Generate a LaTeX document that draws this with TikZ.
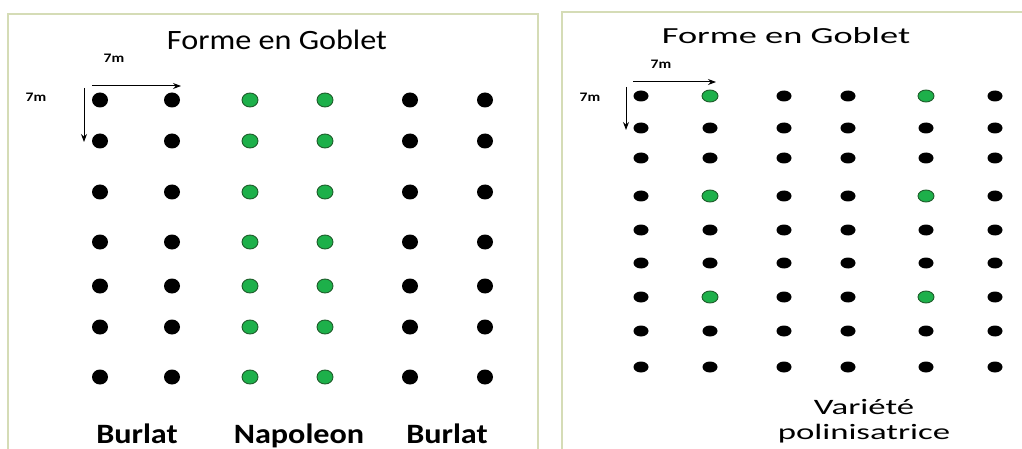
\documentclass[tikz,border=0pt]{standalone}
\usepackage{fontspec}
\setmainfont{Carlito}
\newfontfamily\lwide[FakeStretch=1.15]{Carlito}
\newfontfamily\rwide[FakeStretch=1.58]{Carlito}
\newfontfamily\dimwide[FakeStretch=1.2]{Carlito}
\usetikzlibrary{arrows.meta,shapes.geometric}
\definecolor{frame}{HTML}{D5DCB6}
\definecolor{treegreen}{HTML}{1DB04A}
\definecolor{treeedge}{HTML}{1E5C2A}
\tikzset{
  bdot/.style={fill=black, draw=none, ellipse, minimum width=16pt, minimum height=15pt, inner sep=0pt},
  gdot/.style={fill=treegreen, draw=treeedge, line width=0.9pt, ellipse, minimum width=16pt, minimum height=14pt, inner sep=0pt},
  sbdot/.style={bdot, minimum width=15pt, minimum height=11pt},
  sgdot/.style={gdot, minimum width=16pt, minimum height=12pt},
  panel/.style={draw=frame, line width=1.8pt},
  dim/.style={-{Stealth[length=8pt,width=6pt]}, line width=1pt},
  dimlabel/.style={font=\dimwide\bfseries\fontsize{13}{14}\selectfont},
  ltitle/.style={anchor=base, font=\lwide\fontsize{28}{30}\selectfont},
  rtitle/.style={anchor=base, font=\rwide\fontsize{23}{26}\selectfont},
  variety/.style={anchor=base, font=\lwide\bfseries\fontsize{28}{30}\selectfont},
}
\begin{document}
\begin{tikzpicture}[x=1pt,y=-1pt]
\useasboundingbox (0,0) rectangle (1022,449);
% panels
\draw[panel] (8,460) -- (8,14) -- (538,14) -- (538,460);
\draw[panel] (562,460) -- (562,12) -- (1030,12);
% ---------- left panel ----------
\node[ltitle] (t1) at (277,50) {Forme en Goblet};
\node[dimlabel] (h1) at (114,58) {7m};
\node[dimlabel] (v1) at (36,97) {7m};
\coordinate (h1a) at (92,86); \coordinate (h1b) at (181,86);
\coordinate (v1a) at (84,88); \coordinate (v1b) at (84,142);
\draw[dim] (h1a) -- (h1b);
\draw[dim] (v1a) -- (v1b);
\foreach \y [count=\r] in {100,141,192,242,286,327,377}{
  \node[bdot] (L\r a) at (100,\y) {};
  \node[bdot] (L\r b) at (172,\y) {};
  \node[gdot] (L\r c) at (250,\y) {};
  \node[gdot] (L\r d) at (325,\y) {};
  \node[bdot] (L\r e) at (410,\y) {};
  \node[bdot] (L\r f) at (485,\y) {};
}
\node[variety] (n1) at (137,443) {Burlat};
\node[variety] (n2) at (299,443) {Napoleon};
\node[variety] (n3) at (447,443) {Burlat};
% ---------- right panel ----------
\node[rtitle] (t2) at (786,44) {Forme en Goblet};
\node[dimlabel] (h2) at (661,64) {7m};
\node[dimlabel] (v2) at (590,97) {7m};
\coordinate (h2a) at (633,82); \coordinate (h2b) at (716,82);
\coordinate (v2a) at (626,87); \coordinate (v2b) at (626,130);
\draw[dim] (h2a) -- (h2b);
\draw[dim] (v2a) -- (v2b);
\foreach \y [count=\r] in {96,128,158,196,230,263,297,331,367}{
  \node[sbdot] (R\r a) at (641,\y) {};
  \node[sbdot] (R\r c) at (784,\y) {};
  \node[sbdot] (R\r d) at (848,\y) {};
  \node[sbdot] (R\r f) at (995,\y) {};
}
\foreach \y [count=\r] in {96,128,158,196,230,263,297,331,367}{
  \pgfmathtruncatemacro{\g}{(\r==1)||(\r==4)||(\r==7)}
  \ifnum\g=1
    \node[sgdot] (R\r b) at (710,\y) {};
    \node[sgdot] (R\r e) at (926,\y) {};
  \else
    \node[sbdot] (R\r b) at (710,\y) {};
    \node[sbdot] (R\r e) at (926,\y) {};
  \fi
}
\node[rtitle, font=\rwide\fontsize{22}{26}\selectfont] (pv1) at (864,414) {Variété};
\node[rtitle, font=\rwide\fontsize{22}{26}\selectfont] (pv2) at (864,439) {polinisatrice};
\end{tikzpicture}
\end{document}
